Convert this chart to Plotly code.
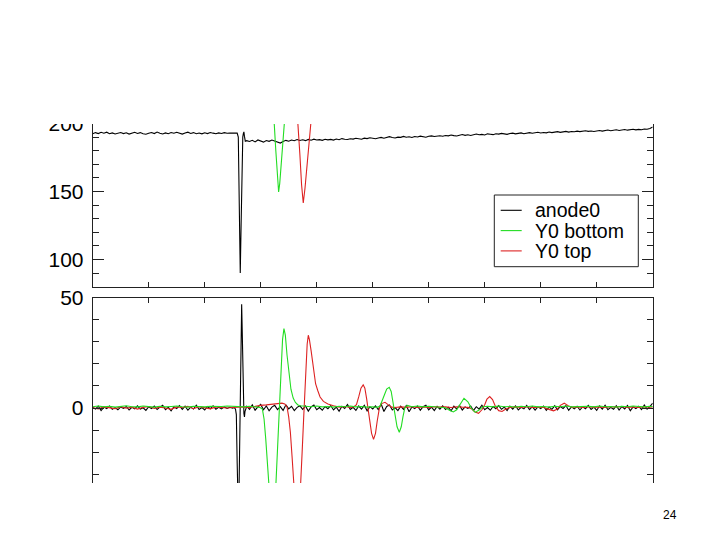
import plotly.graph_objects as go

# Time axis is in digitizer samples; the slide crops off the x tick labels.
STEP_FINE = 5
STEP_COARSE = 10

# ---- anode0, upper panel (raw signal) ----
ANODE_TOP_HEAD = [  # t = 0 .. 255, every 5 samples
    192.4, 193.3, 192.6, 193.5, 192.9, 193.6, 192.5, 193.1, 192.3, 192.8,
    193.4, 192.6, 193.2, 192.2, 192.9, 193.5, 192.7, 193.3, 192.4, 192.1,
    192.8, 193.4, 192.6, 193.7, 192.9, 192.3, 193.1, 192.5, 193.4, 192.8,
    193.5, 192.6, 192.2, 193.0, 193.6, 192.7, 193.3, 192.5, 193.0, 192.4,
    193.2, 192.6, 193.4, 192.9, 192.5, 193.1, 192.7, 193.3, 192.8, 192.9,
    193.0, 192.9,
]
ANODE_TOP_SPIKE = [
    (258, 193.0), (260, 190.0), (261, 160.0), (262, 125.0), (263.5, 90.0),
    (265, 125.0), (266, 155.0), (267, 180.0), (268, 190.0), (269, 192.5),
    (270, 193.8), (271, 190.5), (272.5, 187.0),
]
ANODE_TOP_TAIL = [  # t = 275 .. 1000, every 5 samples
    187.4, 186.8, 187.6, 186.5, 187.9, 187.2, 186.3, 187.5, 186.9, 187.8,
    187.1, 186.2, 185.6, 186.8, 187.6, 187.0, 187.9, 187.3, 188.2, 187.5,
    188.0, 187.4, 188.3, 187.7, 188.5, 187.9, 188.1, 187.6, 188.4, 188.0,
    188.3, 187.8, 188.6, 188.1, 188.9, 188.4, 188.2, 188.8, 188.5, 189.1,
    188.7, 188.4, 189.2, 188.9, 189.5, 189.0, 188.8, 189.4, 189.8, 189.2,
    189.6, 190.3, 189.7, 189.4, 190.0, 189.8, 190.5, 189.9, 190.2, 189.7,
    190.4, 190.1, 190.7, 190.3, 189.9, 190.6, 190.9, 190.4, 190.8, 191.0,
    190.6, 191.2, 190.9, 191.5, 191.1, 190.8, 191.4, 191.9, 191.3, 191.7,
    191.2, 191.8, 192.3, 191.7, 192.0, 191.6, 192.4, 192.1, 191.8, 192.5,
    192.2, 192.7, 192.3, 192.0, 192.6, 192.9, 192.4, 192.8, 193.1, 192.5,
    192.9, 193.3, 192.8, 193.2, 193.6, 193.0, 193.4, 193.1, 193.7, 193.3,
    193.6, 194.0, 193.5, 193.8, 194.2, 193.7, 194.1, 193.9, 194.4, 194.0,
    194.3, 194.7, 194.2, 194.5, 194.1, 194.6, 194.9, 194.4, 194.8, 195.2,
    194.7, 195.0, 195.4, 194.9, 195.3, 195.6, 195.1, 195.5, 195.8, 195.3,
    195.7, 195.4, 196.0, 195.8, 196.3, 197.4,
]

# ---- Y0 bottom / Y0 top, upper panel (only their dips reach the scale) ----
Y0_BOTTOM_TOP = [
    (0, 232.0), (316, 232.0), (320, 215.0), (324.3, 199.0), (327, 180.0),
    (330, 160.0), (332, 149.6), (334, 156.0), (337, 175.0), (340, 190.0),
    (342, 199.0), (346, 216.0), (350, 232.0), (1000, 232.0),
]
Y0_TOP_TOP = [
    (0, 232.0), (360, 232.0), (364, 215.0), (367, 199.0), (370, 177.0),
    (373, 155.0), (376, 141.5), (379, 152.0), (382, 168.0), (385, 184.0),
    (388, 197.0), (391, 210.0), (395, 225.0), (400, 232.0), (1000, 232.0),
]

# ---- anode0, lower panel (filtered) ----
ANODE_BOT_HEAD = [  # t = 0 .. 250, every 5 samples
    0.3, -0.5, 0.8, -1.2, 0.4, -0.3, 0.9, -0.6, 0.2, -0.8,
    0.5, -0.2, 0.7, -0.9, 0.3, -0.4, 1.0, -0.5, 0.1, -1.1,
    0.6, -0.3, 0.9, -0.7, 0.4, 1.2, -0.8, 0.3, -1.3, 0.6,
    -0.2, 1.1, -0.6, 0.8, -1.0, 0.4, -0.5, 1.3, -0.7, 0.2,
    -0.9, 0.7, -0.3, 1.0, -0.6, 0.3, -0.4, 0.5, -0.2, 0.3,
    -0.1,
]
ANODE_BOT_SPIKE = [
    (253, 0.2), (255, -0.5), (256.5, -3.0), (258, -25.0), (259, -42.0),
    (260, -48.0), (261, -43.0), (262, -24.0), (263, -2.0), (264, 20.0),
    (265, 40.0), (266, 47.0), (267, 35.0), (268, 14.0), (269, 1.0),
    (270, -2.5), (271, -4.0), (272, -1.5),
]
ANODE_BOT_TAIL = [  # t = 275 .. 1000, every 5 samples
    0.8, -0.6, 1.4, -1.0, 0.5, 1.6, -0.8, 0.9, -1.3, 0.4,
    1.2, -0.7, 0.6, -1.1, 1.5, -0.4, 0.8, -1.2, 0.3, 1.0,
    -0.6, 0.9, -1.4, 0.5, 1.3, -0.8, 0.2, -1.0, 0.7, -0.3,
    1.1, -0.9, 0.4, -1.5, 0.8, -0.2, 1.6, -0.7, 0.3, -1.1,
    0.9, -0.5, 1.2, -1.3, 0.6, -0.4, 1.0, -0.8, 1.9, -1.6,
    0.7, 1.4, -0.9, 0.2, -1.2, 0.8, -0.6, 1.1, -1.7, 0.5,
    -0.3, 0.9, -1.0, 0.6, 1.3, -0.8, 0.4, -1.2, 0.7, -0.5,
    1.0, -0.7, 0.3, -1.3, 0.8, -0.4, 1.2, -0.9, 0.5, -0.2,
    0.9, -1.1, 0.6, -0.5, 1.3, -0.8, 0.2, -1.0, 0.7, -0.3,
    1.1, -0.6, 0.4, -1.2, 0.8, -0.5, 1.0, -0.9, 0.3, -0.4,
    1.2, -0.7, 0.6, -1.0, 0.5, -0.3, 0.9, -1.1, 0.4, -0.6,
    1.0, -0.8, 0.7, -0.2, 1.1, -1.0, 0.5, -0.4, 0.8, -0.9,
    0.6, -0.3, 1.2, -0.7, 0.4, -1.1, 0.9, -0.5, 1.3, -0.8,
    0.3, -0.6, 1.0, -0.9, 0.7, -0.4, 1.1, -1.2, 0.5, -0.3,
    0.8, -0.7, 1.4, -0.5, 0.6, 2.2,
]

# ---- Y0 bottom, lower panel ----
Y0_BOTTOM_HEAD = [  # t = 0 .. 250, every 10 samples
    0.6, 0.9, 0.5, 0.8, 0.4, 0.7, 1.0, 0.6, 0.5, 0.9,
    0.7, 0.4, 0.8, 0.5, 0.7, 0.9, 0.6, 0.4, 0.8, 0.7,
    0.5, 0.8, 0.6, 0.7, 0.9, 0.8,
]
Y0_BOTTOM_REST = [
    (260, 0.7), (270, 0.5), (280, 0.8), (290, 0.6), (298, 0.3), (303, -0.5),
    (306, -5.0), (309, -14.0), (312, -26.0), (315, -40.0), (318, -52.0),
    (321, -58.0), (324, -52.0), (327, -36.0), (330, -18.0), (333, 0.0),
    (336, 17.0), (339, 31.0), (341.5, 36.0), (344, 33.0), (347, 24.0),
    (350, 16.0), (354, 8.5), (358, 4.5), (362, 2.5), (366, 1.5), (370, 1.0),
    (380, 0.8), (390, 0.6), (400, 0.9), (410, 0.5), (420, 0.7), (430, 0.4),
    (440, 0.8), (450, 0.6), (460, 0.9), (470, 0.5), (480, 0.7), (490, 0.4),
    (500, 0.6), (507, 0.3), (513, 0.8), (517, 3.0), (521, 6.0), (525, 8.6),
    (529.5, 9.4), (533, 7.5), (537, 1.5), (540, -3.5), (543.5, -8.5),
    (547.5, -11.0), (551, -8.5), (554, -4.0), (557.5, 0.2), (562, 1.2),
    (570, 0.6), (580, 0.9), (590, 0.5), (600, 0.8), (610, 0.6), (620, 0.4),
    (630, 0.1), (637, -1.0), (644, -1.8), (650, -0.8), (656, 1.8),
    (663, 4.4), (670, 2.8), (676, 0.0), (683, -2.0), (690, -0.9),
    (697, 0.6), (705, 0.8), (715, 0.5), (725, 0.9), (735, 0.6), (745, 0.7),
    (755, 0.4), (765, 0.8), (775, 0.6), (785, 0.9), (795, 0.5), (805, 0.7),
    (815, 0.4), (825, 0.8), (835, 0.6), (845, 0.9), (855, 0.5), (865, 0.7),
    (875, 0.6), (885, 0.8), (895, 0.5), (905, 0.9), (915, 0.6), (925, 0.7),
    (935, 0.4), (945, 0.8), (955, 0.6), (965, 0.9), (975, 0.7), (985, 0.5),
    (995, 0.8), (1000, 0.6),
]

# ---- Y0 top, lower panel ----
Y0_TOP_HEAD = [  # t = 0 .. 250, every 10 samples
    0.1, -0.4, 0.5, 0.2, -0.3, 0.6, -0.1, 0.4, -0.5, 0.3,
    0.7, -0.2, 0.4, 0.0, -0.6, 0.5, 0.2, 0.8, -0.3, 0.6,
    0.1, -0.4, 0.5, 0.3, 0.0, 0.2,
]
Y0_TOP_REST = [
    (260, 0.3), (270, 0.5), (280, 0.2), (290, 0.8), (300, 1.2), (310, 1.4),
    (320, 1.8), (330, 2.0), (338, 2.2), (343, 1.8), (347, 0.5), (350, -4.0),
    (353, -11.0), (356, -22.0), (359, -36.0), (362, -50.0), (365, -57.0),
    (368, -52.0), (371, -38.0), (374, -20.0), (377, -3.0), (379, 8.0),
    (381, 20.0), (383, 29.0), (385, 33.0), (387, 31.0), (390, 26.0),
    (394, 17.0), (398, 11.0), (402, 7.8), (406, 5.0), (412, 3.0),
    (420, 1.8), (430, 1.0), (440, 0.4), (450, 0.7), (460, 0.3), (466, 0.5),
    (471, 1.5), (475, 5.0), (479, 9.0), (483, 10.5), (486, 9.0), (489, 4.5),
    (492, -1.0), (495, -6.5), (498, -11.5), (501.5, -14.2), (505, -11.5),
    (508, -6.0), (512, 0.0), (516, 2.0), (522, 2.6), (528, 1.4), (534, 0.4),
    (540, 0.2), (550, 0.5), (560, 0.3), (570, 0.6), (580, 0.2), (590, 0.5),
    (600, 0.3), (610, 0.6), (620, 0.4), (630, 0.5), (640, 0.2), (650, 0.6),
    (660, 0.4), (670, 0.3), (677, -0.5), (683, -1.8), (689, -2.4),
    (695, -0.8), (700, 1.5), (704, 4.0), (709, 5.2), (714, 3.8), (719, 0.8),
    (725, -1.2), (731, -1.6), (737, -0.6), (745, 0.2), (755, 0.5), (765, 0.3),
    (775, 0.6), (785, 0.2), (795, 0.4), (805, 0.3), (812, -0.4), (818, -1.0),
    (823, -1.3), (829, -0.6), (835, 1.2), (842, 2.2), (849, 1.0), (856, 0.3),
    (865, 0.5), (875, 0.2), (885, 0.6), (895, 0.3), (905, 0.5), (915, 0.2),
    (925, 0.6), (935, 0.4), (945, 0.7), (955, 0.3), (965, 0.5), (975, 0.2),
    (985, 0.6), (995, 0.4), (1000, 0.5),
]

LEGEND_NAMES = ["anode0", "Y0 bottom", "Y0 top"]

BLACK = "#000000"
GREEN = "#22dd22"
RED = "#dd2222"
FRAME = "#222222"
FONT = "Liberation Sans, Arial, sans-serif"
COLORS = [BLACK, GREEN, RED]


def stepped(t0, dt, values):
    return [t0 + dt * i for i in range(len(values))], list(values)


def joined(*parts):
    t, v = [], []
    for pt, pv in parts:
        t += pt
        v += pv
    return t, v


def pairs(points):
    return [p[0] for p in points], [p[1] for p in points]


anode_top = joined(
    stepped(0, STEP_FINE, ANODE_TOP_HEAD),
    pairs(ANODE_TOP_SPIKE),
    stepped(275, STEP_FINE, ANODE_TOP_TAIL),
)
anode_bot = joined(
    stepped(0, STEP_FINE, ANODE_BOT_HEAD),
    pairs(ANODE_BOT_SPIKE),
    stepped(275, STEP_FINE, ANODE_BOT_TAIL),
)
y0b_bot = joined(stepped(0, STEP_COARSE, Y0_BOTTOM_HEAD), pairs(Y0_BOTTOM_REST))
y0t_bot = joined(stepped(0, STEP_COARSE, Y0_TOP_HEAD), pairs(Y0_TOP_REST))
y0b_top = pairs(Y0_BOTTOM_TOP)
y0t_top = pairs(Y0_TOP_TOP)

fig = go.Figure()


def line(xy, name, color, axes):
    fig.add_trace(go.Scatter(
        x=xy[0], y=xy[1], mode="lines", name=name, showlegend=False,
        line=dict(color=color, width=1.1), xaxis=axes[0], yaxis=axes[1],
    ))


line(anode_top, "anode0", BLACK, ("x", "y"))
line(y0b_top, "Y0 bottom", GREEN, ("x", "y"))
line(y0t_top, "Y0 top", RED, ("x", "y"))
line(anode_bot, "anode0", BLACK, ("x2", "y2"))
line(y0t_bot, "Y0 top", RED, ("x2", "y2"))
line(y0b_bot, "Y0 bottom", GREEN, ("x2", "y2"))

W, H = 720, 540


def px(x):
    return x / W


def py(y):
    return 1 - y / H


x_dom = [px(92.7), px(652.7)]

xcommon = dict(
    range=[0, 1000], dtick=100, tick0=0, showticklabels=False,
    ticks="inside", ticklen=5, tickcolor=FRAME, showline=True,
    linecolor=FRAME, linewidth=1, mirror="ticks", showgrid=False,
    zeroline=False, domain=x_dom,
)
ycommon = dict(
    dtick=50, tick0=0, ticks="inside", ticklen=11, tickcolor=FRAME,
    minor=dict(dtick=10, ticks="inside", ticklen=6, tickcolor=FRAME),
    showline=True, linecolor=FRAME, linewidth=1, mirror="ticks",
    showgrid=False, zeroline=False, ticklabelstandoff=4,
    tickfont=dict(family=FONT, size=21, color="#000000"),
)

# legend key drawn as a boxed key inside the upper panel
shapes = [
    # the slide crops the plot above and below
    dict(type="rect", xref="paper", yref="paper", x0=0, x1=1,
         y0=py(124), y1=1, fillcolor="white", line=dict(width=0),
         layer="above"),
    dict(type="rect", xref="paper", yref="paper", x0=0, x1=1,
         y0=0, y1=py(483), fillcolor="white", line=dict(width=0),
         layer="above"),
    dict(type="rect", xref="paper", yref="paper", x0=px(494.3), x1=px(638.3),
         y0=py(266.7), y1=py(195), fillcolor="white",
         line=dict(color=FRAME, width=1), layer="above"),
]
annotations = [
    dict(text="24", x=px(670), y=py(515), xref="paper", yref="paper",
         xanchor="center", yanchor="middle", showarrow=False,
         font=dict(family=FONT, size=12, color="#000000")),
]
for i, (name, color) in enumerate(zip(LEGEND_NAMES, COLORS)):
    row_y = 210.3 + 20.3 * i
    shapes.append(dict(type="line", xref="paper", yref="paper",
                       x0=px(500.7), x1=px(521.7), y0=py(row_y), y1=py(row_y),
                       line=dict(color=color, width=1.1), layer="above"))
    annotations.append(dict(text=name, x=px(532.5), y=py(row_y),
                            xref="paper", yref="paper", xanchor="left",
                            yanchor="middle", showarrow=False,
                            font=dict(family=FONT, size=19.5, color="#000000")))

fig.update_layout(
    width=W, height=H,
    margin=dict(l=0, r=0, t=0, b=0, pad=0, autoexpand=False),
    paper_bgcolor="white", plot_bgcolor="white",
    showlegend=False,
    xaxis=dict(xcommon, anchor="y"),
    yaxis=dict(ycommon, range=[80, 205],
               domain=[py(286.7), py(116.7)], anchor="x"),
    xaxis2=dict(xcommon, anchor="y2"),
    yaxis2=dict(ycommon, range=[-50, 50],
                domain=[py(518.3), py(297.7)], anchor="x2"),
    shapes=shapes,
    annotations=annotations,
)

fig.write_html(
    "out.html",
    config={"displayModeBar": False},
    post_script="document.body.style.margin = '0';",
)
